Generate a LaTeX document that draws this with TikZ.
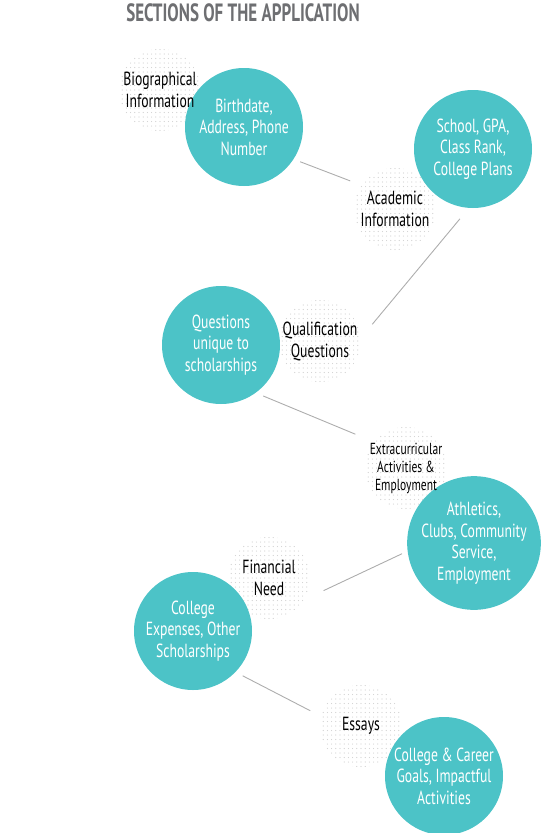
\documentclass[tikz,border=0pt]{standalone}
\usepackage{fontspec}
\setmainfont{PT Sans}[FakeStretch=0.72]
\newfontfamily\titlefont{PT Sans Bold}[FakeStretch=0.68]
\usepackage{xcolor}
\usetikzlibrary{positioning,backgrounds}
\definecolor{appteal}{RGB}{76,195,199}
\definecolor{titlegray}{RGB}{110,111,114}

\begin{document}
\begin{tikzpicture}[
    x=1pt, y=-1pt,
    topic/.style={circle, fill=appteal, text=white, minimum size=118pt, inner sep=0pt,
                  align=center, font=\fontsize{19}{21.5}\selectfont},
    section/.style={circle, minimum size=84pt, inner sep=0pt, align=center,
                    text=black, font=\fontsize{19}{22}\selectfont},
    dotfill/.style={fill=black!18},
    link/.style={draw=black!32, line width=0.9pt}
]
\useasboundingbox (0,0) rectangle (546,833);

% Title
\node[font=\titlefont\fontsize{25}{28}\selectfont, text=titlegray] (title) at (243,13)
      {SECTIONS OF THE APPLICATION};

% Topic circles
\node[topic] (birth)   at (244,127) {Birthdate,\\Address, Phone\\Number};
\node[topic] (school)  at (473,149) {School, GPA,\\Class Rank,\\College Plans};
\node[topic] (quest)   at (221,345) {Questions\\unique to\\scholarships};
\node[topic] (athl)    at (474,543) {Athletics,\\Clubs, Community\\Service,\\Employment};
\node[topic] (expense) at (193,631) {College\\Expenses, Other\\Scholarships};
\node[topic] (career)  at (444,776) {College \& Career\\Goals, Impactful\\Activities};

% Section labels
\node[section] (bio)   at (160,90)  {Biographical\\Information};
\node[section] (acad)  at (395,209) {Academic\\Information};
\node[section] (qual)  at (320,341) {Qualification\\Questions};
\node[section, font=\fontsize{16}{18}\selectfont] (extra) at (406,468)
      {Extracurricular\\Activities \&\\Employment};
\node[section] (fin)   at (269,578) {Financial\\Need};
\node[section] (essay) at (361,726) {Essays};

% Dotted discs behind the labels
\begin{scope}[on background layer]
  \foreach \n in {bio,acad,qual,extra,fin,essay} {
    \begin{scope}[shift={(\n.center)}]
      \clip (0,0) circle (41);
      \foreach \i in {-10,...,10}
        \foreach \j in {-9,...,9}
          \fill[dotfill] (\i*4.2,\j*4.5) circle (0.6);
    \end{scope}
  }
\end{scope}

% Links
\draw[link, shorten <=7pt,  shorten >=11pt] (birth.-33)   -- (acad.145);
\draw[link, shorten <=14pt, shorten >=16pt] (school.-94)  -- (qual.6);
\draw[link, shorten <=8pt,  shorten >=17pt] (quest.-54)   -- (extra.142);
\draw[link, shorten <=6pt,  shorten >=20pt] (athl.-173)   -- (fin.-30);
\draw[link, shorten <=8pt,  shorten >=11pt] (expense.-44) -- (essay.166);

\end{tikzpicture}
\end{document}
